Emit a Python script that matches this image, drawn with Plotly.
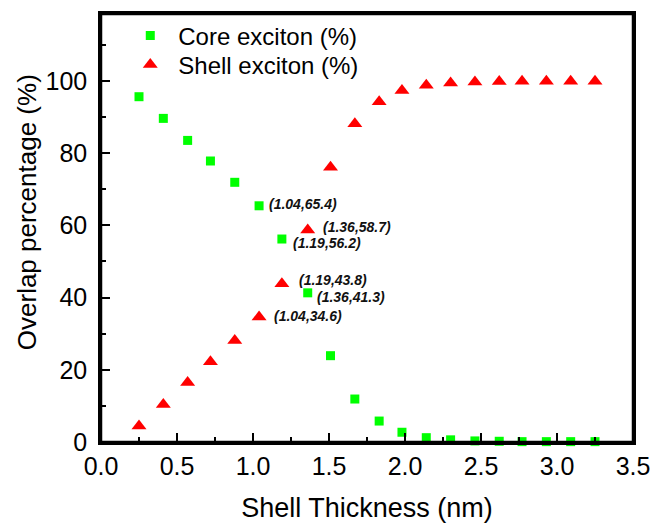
import plotly.graph_objects as go

# ---- data ----
thickness = [0.25, 0.41, 0.57, 0.72, 0.88, 1.04, 1.19, 1.36, 1.51, 1.67,
             1.83, 1.98, 2.14, 2.30, 2.46, 2.62, 2.77, 2.93, 3.09, 3.25]
core = [95.6, 89.6, 83.5, 77.8, 71.9, 65.4, 56.2, 41.3, 23.9, 11.9,
        5.8, 2.7, 1.2, 0.6, 0.3, 0.2, 0.1, 0.1, 0.1, 0.1]
shell = [4.4, 10.4, 16.5, 22.2, 28.1, 34.6, 43.8, 58.7, 76.1, 88.1,
         94.2, 97.3, 98.8, 99.4, 99.7, 99.8, 99.9, 99.9, 99.9, 99.9]
labeled_idx = [5, 6, 7]
core_label_shift = [(8, 2), (9, -4), (7, -4)]
shell_label_shift = [(13, 1), (15, 4), (13, 3)]

x_title = "Shell Thickness (nm)"
y_title = "Overlap percentage (%)"
core_name = "Core exciton (%)"
shell_name = "Shell exciton (%)"

FONT = "Liberation Sans, Arial, sans-serif"
GREEN = "#00FF00"
RED = "#FF0000"

fig = go.Figure()
fig.add_trace(go.Scatter(x=thickness, y=core, mode="markers", name=core_name,
                         marker=dict(symbol="square", size=9, color=GREEN),
                         cliponaxis=False, legend="legend"))
fig.add_trace(go.Scatter(x=thickness, y=shell, mode="markers", name=shell_name,
                         marker=dict(symbol="triangle-up", size=13, color=RED),
                         cliponaxis=False, legend="legend2"))

for i, (dx, dy) in zip(labeled_idx, core_label_shift):
    fig.add_annotation(x=thickness[i], y=core[i], text=f"<b><i>({thickness[i]:.2f},{core[i]:.1f})</i></b>",
                       showarrow=False, xanchor="left", yanchor="middle", xshift=dx, yshift=dy,
                       font=dict(family=FONT, size=14, color="#111"))
for i, (dx, dy) in zip(labeled_idx, shell_label_shift):
    fig.add_annotation(x=thickness[i], y=shell[i], text=f"<b><i>({thickness[i]:.2f},{shell[i]:.1f})</i></b>",
                       showarrow=False, xanchor="left", yanchor="middle", xshift=dx, yshift=dy,
                       font=dict(family=FONT, size=14, color="#111"))

# y-axis title as annotation (offset from axis center as in reference)
fig.add_annotation(text=y_title, xref="paper", yref="paper", x=-0.139, y=0.537,
                   textangle=-90, showarrow=False, xanchor="center", yanchor="middle",
                   font=dict(family=FONT, size=26, color="black"))

# plot frame
fig.add_shape(type="rect", xref="paper", yref="paper", x0=0, y0=0, x1=1, y1=1,
              line=dict(color="black", width=2.5), fillcolor="rgba(0,0,0,0)", layer="above")

axis_common = dict(showline=True, linewidth=2.5, linecolor="#000000", mirror=True,
                   ticks="inside", ticklen=9, tickwidth=2, tickcolor="black",
                   showgrid=False, zeroline=False, automargin=False,
                   tickfont=dict(family=FONT, size=25, color="black"))

legend_common = dict(xanchor="left", yanchor="top", bgcolor="rgba(0,0,0,0)", itemwidth=46,
                     font=dict(family=FONT, size=24, color="black"))

fig.update_layout(
    width=654, height=523,
    margin=dict(l=101, r=21, t=14, b=81),
    paper_bgcolor="white", plot_bgcolor="white",
    font=dict(family=FONT, color="black"),
    xaxis=dict(range=[0, 3.5], dtick=0.5, tick0=0, tickformat=".1f",
               minor=dict(ticks="inside", ticklen=5, tickwidth=2, tickcolor="black", dtick=0.25),
               title=dict(text=x_title, font=dict(family=FONT, size=27, color="black"), standoff=22),
               **axis_common),
    yaxis=dict(range=[0, 118.5], dtick=20, tick0=0,
               minor=dict(ticks="inside", ticklen=5, tickwidth=2, tickcolor="black", dtick=10),
               ticklabelstandoff=6,
               **axis_common),
    legend=dict(x=0.04, y=1.0014, **legend_common),
    legend2=dict(x=0.04, y=0.9336, **legend_common),
    showlegend=True,
)

fig.write_html("out.html")
